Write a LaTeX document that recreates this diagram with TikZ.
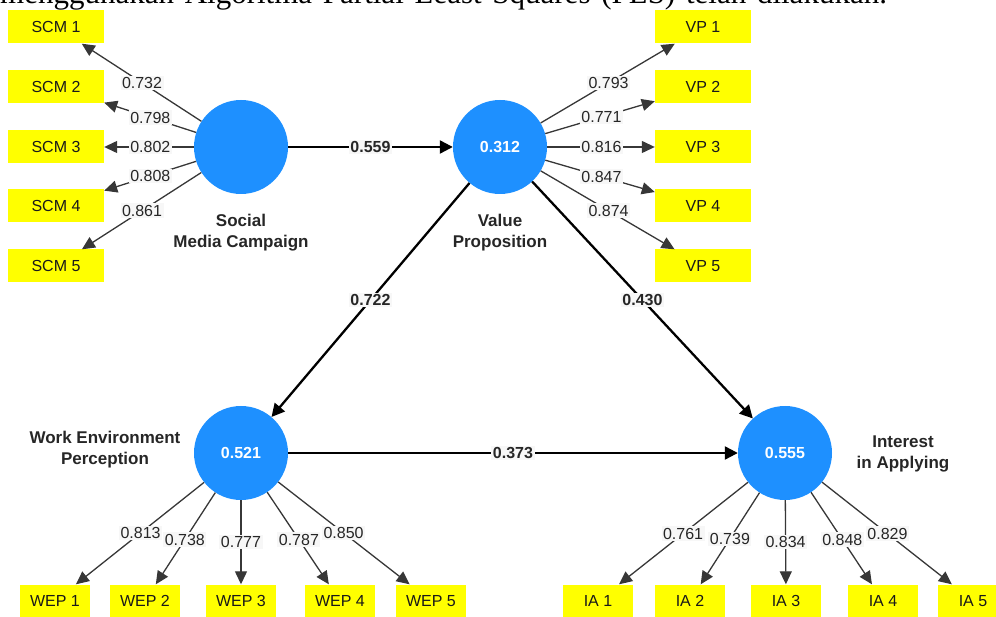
\documentclass[tikz,border=0pt]{standalone}
\usepackage{fontspec}
\setmainfont{Liberation Sans}
\newfontfamily\bodyserif{Liberation Serif}
\usetikzlibrary{arrows.meta,calc}
\definecolor{lvblue}{RGB}{30,144,255}
\definecolor{itemyellow}{RGB}{255,255,0}
\definecolor{lblbg}{RGB}{247,247,247}
\definecolor{loadline}{RGB}{55,55,55}

\begin{document}
\begin{tikzpicture}[x=1pt, y=-1pt,
  lv/.style={circle, fill=lvblue, minimum size=94pt, inner sep=0pt, text=white,
             font=\fontsize{16}{19}\selectfont\bfseries},
  item/.style={fill=itemyellow, minimum width=96pt, minimum height=33pt, inner sep=0pt,
               text=black!90, font=\fontsize{16}{19}\selectfont},
  witem/.style={item, minimum width=70pt},
  lvname/.style={align=center, inner sep=0pt, anchor=north, text=black!85,
                 font=\fontsize{17}{21}\selectfont\bfseries},
  ld/.style={-{Triangle[length=13pt,width=12pt]}, draw=loadline, line width=1.3pt},
  struct/.style={-{Triangle[length=13pt,width=13pt]}, line width=2.3pt},
  lbl/.style={fill=lblbg, inner sep=1.5pt, text=black!85, font=\fontsize{16}{19}\selectfont},
  plbl/.style={lbl, font=\fontsize{16}{19}\selectfont\bfseries}]
  \useasboundingbox (0,0) rectangle (996,617);
  \node[anchor=base west, inner sep=0pt, font=\bodyserif\fontsize{31}{36}\selectfont] (caption) at (0,4)
    {\spaceskip=10.7pt menggunakan Algoritma Partial Least Squares (PLS) telah dilakukan.};

  \node[lv] (scm) at (241,147) {};
  \node[lv] (vp) at (500,147) {0.312};
  \node[lv] (wep) at (241,453) {0.521};
  \node[lv] (ia) at (785,453) {0.555};
  \node[lvname] (scmname) at (241,214) {Social\\Media Campaign};
  \node[lvname] (vpname) at (500,214) {Value\\Proposition};
  \node[lvname] (wepname) at (105,431) {Work Environment\\Perception};
  \node[lvname] (ianame) at (903,436) {Interest\\in Applying};

  \node[item] (scm1) at (56,27) {SCM 1};
  \node[item] (scm2) at (56,87) {SCM 2};
  \node[item] (scm3) at (56,147) {SCM 3};
  \node[item] (scm4) at (56,206) {SCM 4};
  \node[item] (scm5) at (56,266) {SCM 5};
  \node[item] (vp1) at (703,27) {VP 1};
  \node[item] (vp2) at (703,87) {VP 2};
  \node[item] (vp3) at (703,147) {VP 3};
  \node[item] (vp4) at (703,206) {VP 4};
  \node[item] (vp5) at (703,266) {VP 5};
  \node[witem] (wep1) at (55,601) {WEP 1};
  \node[witem] (wep2) at (145,601) {WEP 2};
  \node[witem] (wep3) at (241,601) {WEP 3};
  \node[witem] (wep4) at (340,601) {WEP 4};
  \node[witem] (wep5) at (431,601) {WEP 5};
  \node[witem] (ia1) at (598,601) {IA 1};
  \node[witem] (ia2) at (690,601) {IA 2};
  \node[witem] (ia3) at (786,601) {IA 3};
  \node[witem] (ia4) at (883,601) {IA 4};
  \node[witem] (ia5) at (973,601) {IA 5};

  \draw[ld] (scm) -- (scm1) node[lbl] at ($(scm)!0.535!(scm1)$) {0.732};
  \draw[ld] (scm) -- (scm2) node[lbl] at ($(scm)!0.49!(scm2)$) {0.798};
  \draw[ld] (scm) -- (scm3) node[lbl] at ($(scm)!0.49!(scm3)$) {0.802};
  \draw[ld] (scm) -- (scm4) node[lbl] at ($(scm)!0.49!(scm4)$) {0.808};
  \draw[ld] (scm) -- (scm5) node[lbl] at ($(scm)!0.535!(scm5)$) {0.861};
  \draw[ld] (vp) -- (vp1) node[lbl] at ($(vp)!0.535!(vp1)$) {0.793};
  \draw[ld] (vp) -- (vp2) node[lbl] at ($(vp)!0.5!(vp2)$) {0.771};
  \draw[ld] (vp) -- (vp3) node[lbl] at ($(vp)!0.5!(vp3)$) {0.816};
  \draw[ld] (vp) -- (vp4) node[lbl] at ($(vp)!0.5!(vp4)$) {0.847};
  \draw[ld] (vp) -- (vp5) node[lbl] at ($(vp)!0.535!(vp5)$) {0.874};
  \draw[ld] (wep) -- (wep1) node[lbl] at ($(wep)!0.54!(wep1)$) {0.813};
  \draw[ld] (wep) -- (wep2) node[lbl] at ($(wep)!0.585!(wep2)$) {0.738};
  \draw[ld] (wep) -- (wep3) node[lbl] at ($(wep)!0.6!(wep3)$) {0.777};
  \draw[ld] (wep) -- (wep4) node[lbl] at ($(wep)!0.585!(wep4)$) {0.787};
  \draw[ld] (wep) -- (wep5) node[lbl] at ($(wep)!0.54!(wep5)$) {0.850};
  \draw[ld] (ia) -- (ia1) node[lbl] at ($(ia)!0.545!(ia1)$) {0.761};
  \draw[ld] (ia) -- (ia2) node[lbl] at ($(ia)!0.58!(ia2)$) {0.739};
  \draw[ld] (ia) -- (ia3) node[lbl] at ($(ia)!0.6!(ia3)$) {0.834};
  \draw[ld] (ia) -- (ia4) node[lbl] at ($(ia)!0.585!(ia4)$) {0.848};
  \draw[ld] (ia) -- (ia5) node[lbl] at ($(ia)!0.545!(ia5)$) {0.829};

  \draw[struct] (scm) -- (vp) node[plbl, pos=0.5] {0.559};
  \draw[struct] (vp) -- (wep) node[plbl, pos=0.5] {0.722};
  \draw[struct] (vp) -- (ia) node[plbl, pos=0.5] {0.430};
  \draw[struct] (wep) -- (ia) node[plbl, pos=0.5] {0.373};
\end{tikzpicture}
\end{document}
